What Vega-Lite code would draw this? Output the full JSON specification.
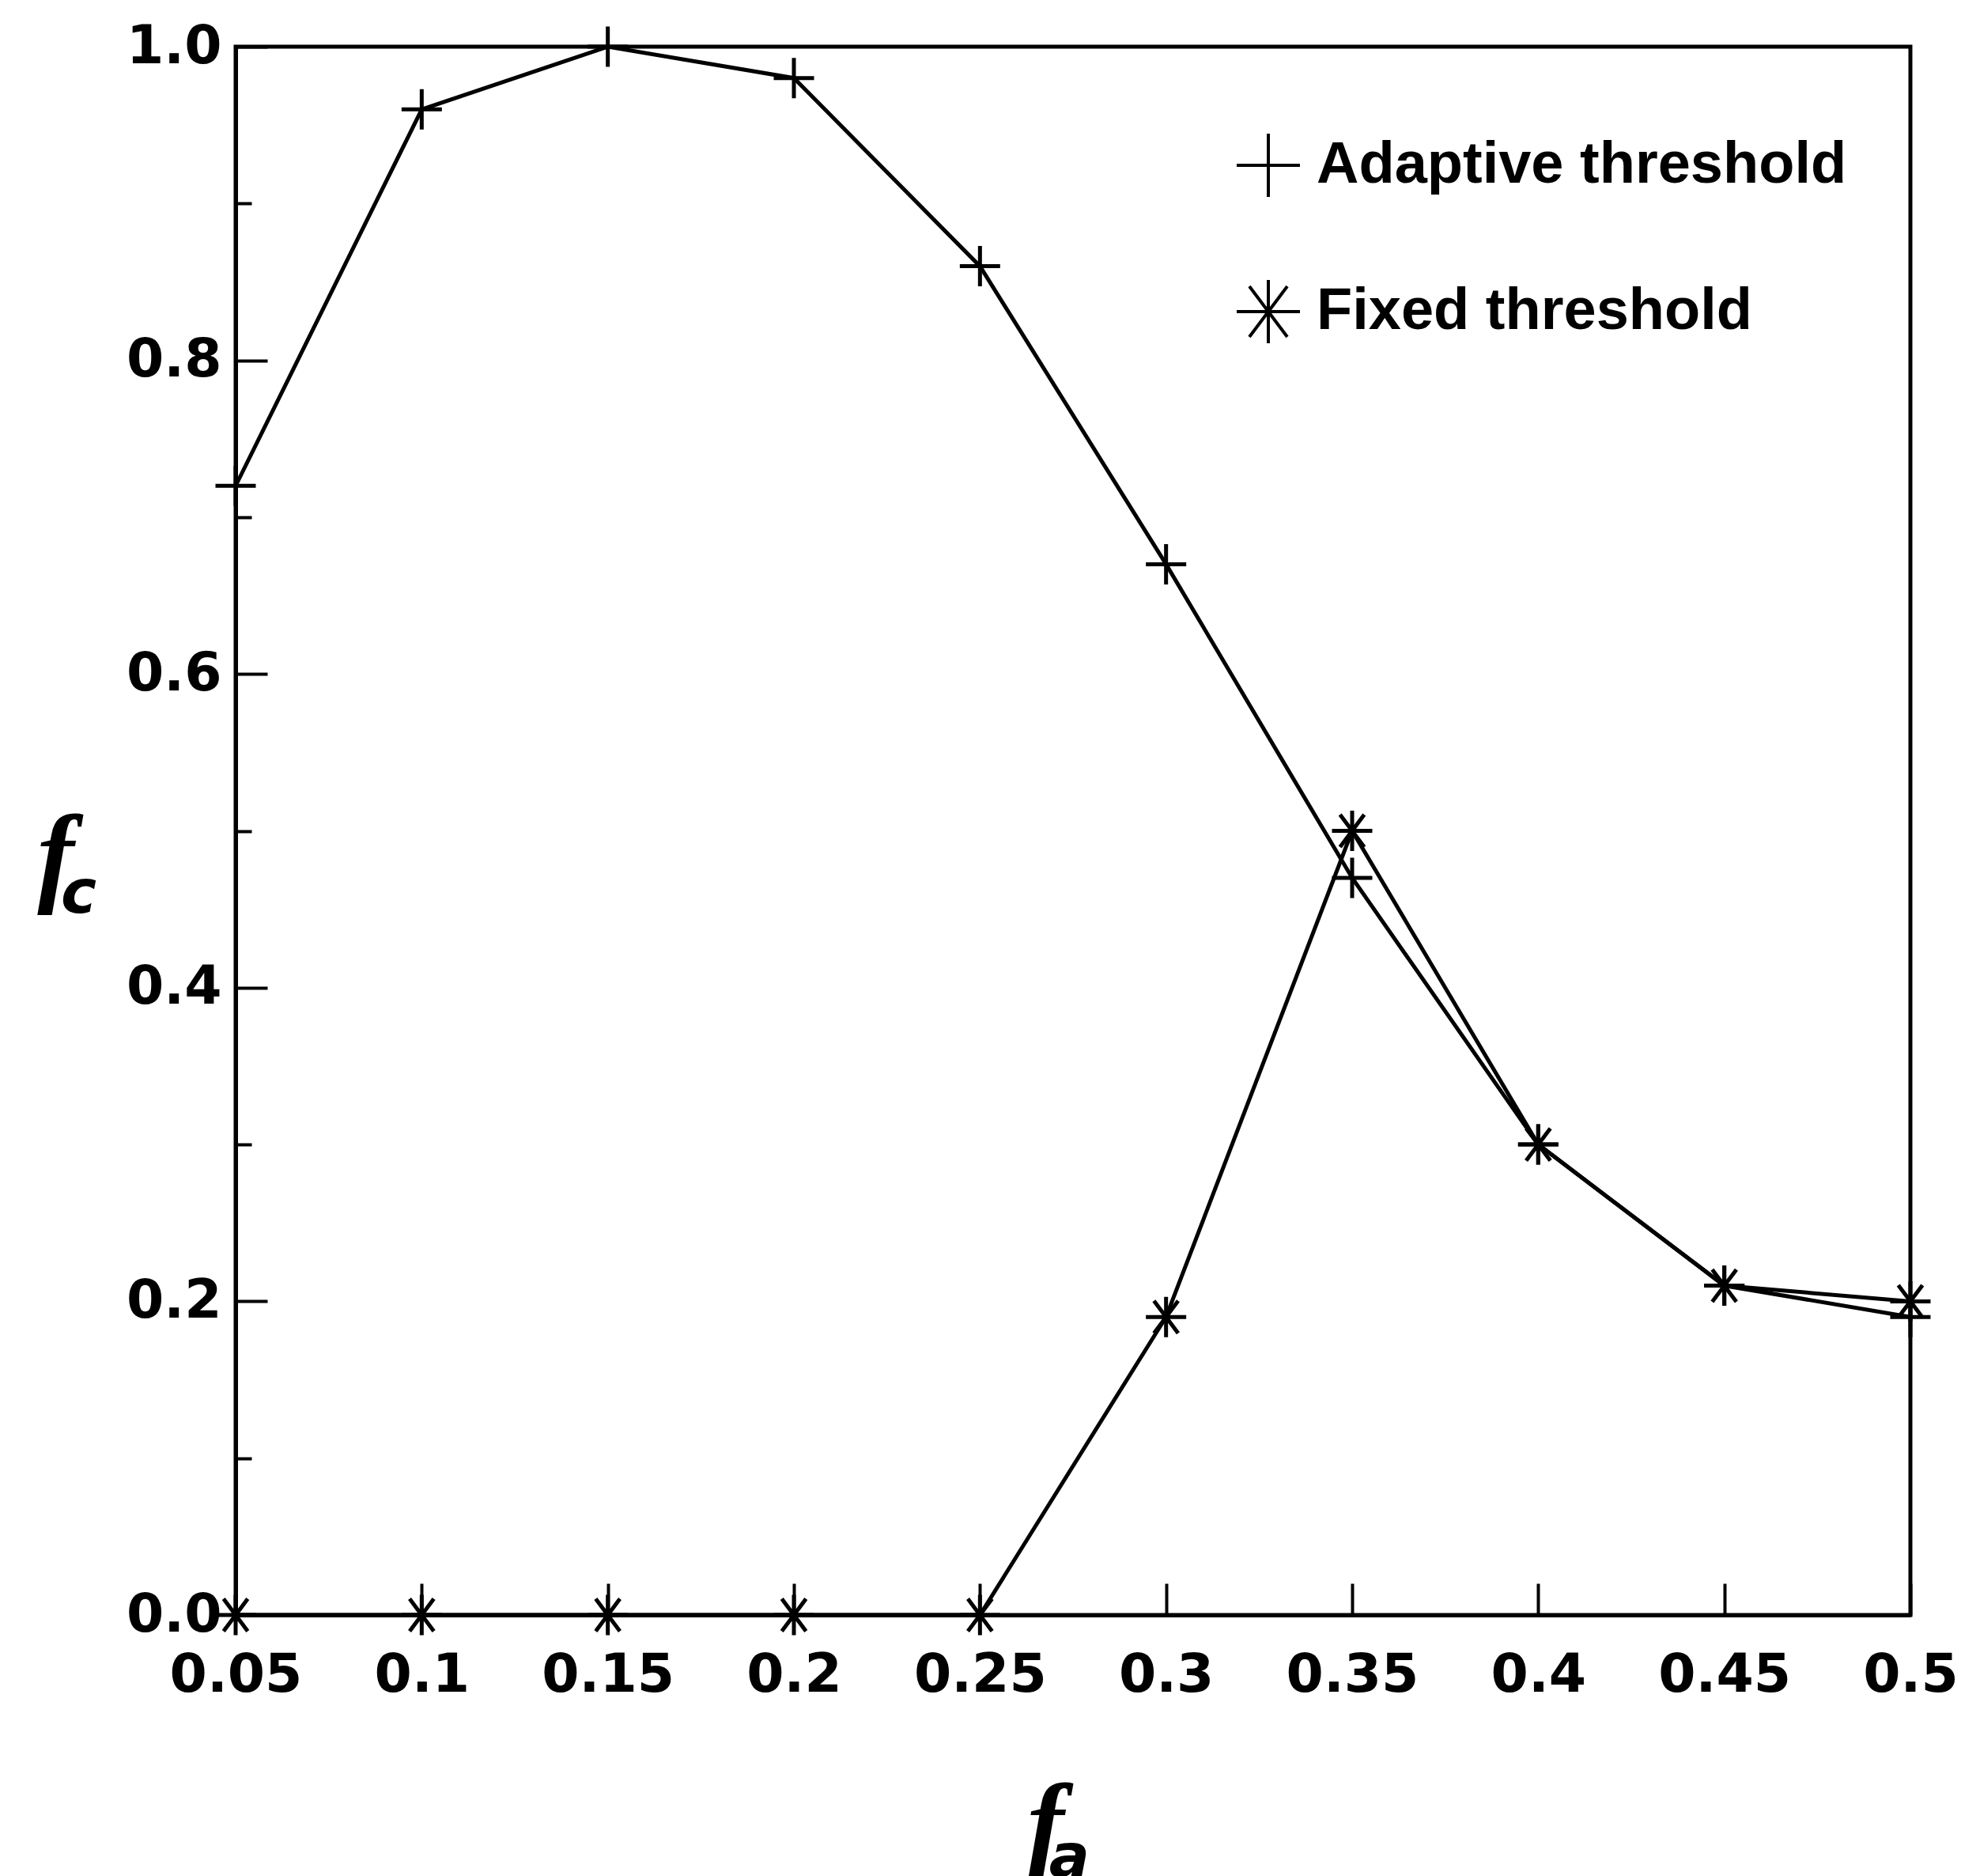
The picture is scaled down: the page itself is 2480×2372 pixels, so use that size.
{
  "$schema": "https://vega.github.io/schema/vega-lite/v6.json",
  "width": 2118,
  "height": 1983,
  "autosize": "none",
  "padding": {"left": 298, "top": 59, "right": 64, "bottom": 330},
  "background": "white",
  "config": {
    "view": {"stroke": "black", "strokeWidth": 5},
    "axis": {"domainColor": "black", "domainWidth": 5, "tickColor": "black", "tickWidth": 4, "grid": false, "labelColor": "black", "titleColor": "black", "labelFlush": false, "labelOverlap": false}
  },
  "data": {
    "values": [
      {"fa": 0.05, "fc": 0.72, "series": "Adaptive threshold"},
      {"fa": 0.10, "fc": 0.96, "series": "Adaptive threshold"},
      {"fa": 0.15, "fc": 1.00, "series": "Adaptive threshold"},
      {"fa": 0.20, "fc": 0.98, "series": "Adaptive threshold"},
      {"fa": 0.25, "fc": 0.86, "series": "Adaptive threshold"},
      {"fa": 0.30, "fc": 0.67, "series": "Adaptive threshold"},
      {"fa": 0.35, "fc": 0.47, "series": "Adaptive threshold"},
      {"fa": 0.40, "fc": 0.30, "series": "Adaptive threshold"},
      {"fa": 0.45, "fc": 0.21, "series": "Adaptive threshold"},
      {"fa": 0.50, "fc": 0.19, "series": "Adaptive threshold"},
      {"fa": 0.05, "fc": 0.00, "series": "Fixed threshold"},
      {"fa": 0.10, "fc": 0.00, "series": "Fixed threshold"},
      {"fa": 0.15, "fc": 0.00, "series": "Fixed threshold"},
      {"fa": 0.20, "fc": 0.00, "series": "Fixed threshold"},
      {"fa": 0.25, "fc": 0.00, "series": "Fixed threshold"},
      {"fa": 0.30, "fc": 0.19, "series": "Fixed threshold"},
      {"fa": 0.35, "fc": 0.50, "series": "Fixed threshold"},
      {"fa": 0.40, "fc": 0.30, "series": "Fixed threshold"},
      {"fa": 0.45, "fc": 0.21, "series": "Fixed threshold"},
      {"fa": 0.50, "fc": 0.20, "series": "Fixed threshold"}
    ]
  },
  "resolve": {"axis": {"x": "independent", "y": "independent"}},
  "layer": [
    {
      "mark": {"type": "line", "color": "black", "strokeWidth": 5},
      "encoding": {
        "x": {"field": "fa", "type": "quantitative", "scale": {"domain": [0.05, 0.5], "nice": false, "zero": false},
          "axis": {"orient": "bottom", "values": [0.05, 0.1, 0.15, 0.2, 0.25, 0.3, 0.35, 0.4, 0.45, 0.5], "format": "~g", "tickSize": -40, "labelPadding": 82, "labelFont": "DejaVu Sans", "labelFontWeight": "bold", "labelFontSize": 68,
            "title": "f", "titleFont": "Liberation Serif", "titleFontStyle": "italic", "titleFontWeight": "bold", "titleFontSize": 140, "titleAngle": 0, "titleAlign": "center", "titleBaseline": "alphabetic", "titleX": 1024, "titleY": 309}},
        "y": {"field": "fc", "type": "quantitative", "scale": {"domain": [0, 1], "nice": false},
          "axis": {"orient": "left", "values": [0, 0.2, 0.4, 0.6, 0.8, 1.0], "format": ".1f", "tickSize": -40, "labelPadding": 58, "labelFont": "DejaVu Sans", "labelFontWeight": "bold", "labelFontSize": 68,
            "title": "f", "titleFont": "Liberation Serif", "titleFontStyle": "italic", "titleFontWeight": "bold", "titleFontSize": 140, "titleAngle": 0, "titleAlign": "center", "titleBaseline": "alphabetic", "titleX": -228, "titleY": 1067}},
        "detail": {"field": "series"}
      }
    },
    {
      "mark": {"type": "point", "filled": false, "stroke": "black", "strokeWidth": 5, "size": 2600, "opacity": 1},
      "encoding": {
        "x": {"field": "fa", "type": "quantitative",
          "axis": {"orient": "bottom", "ticks": false, "labels": false, "domain": false,
            "title": "a", "titleFont": "DejaVu Sans", "titleFontStyle": "italic", "titleFontWeight": "bold", "titleFontSize": 76, "titleAngle": 0, "titleAlign": "center", "titleBaseline": "alphabetic", "titleX": 1054, "titleY": 330}},
        "y": {"field": "fc", "type": "quantitative",
          "axis": {"orient": "left", "values": [0.1, 0.3, 0.5, 0.7, 0.9], "tickSize": -20, "labels": false, "domain": false,
            "title": "c", "titleFont": "DejaVu Sans", "titleFontStyle": "italic", "titleFontWeight": "bold", "titleFontSize": 76, "titleAngle": 0, "titleAlign": "center", "titleBaseline": "alphabetic", "titleX": -199, "titleY": 1094}},
        "shape": {"field": "series", "type": "nominal",
          "scale": {"domain": ["Adaptive threshold", "Fixed threshold"], "range": ["M-1,0L1,0M0,-1L0,1", "M-1,0L1,0M0,-1L0,1M-0.6,-0.8L0.6,0.8M-0.6,0.8L0.6,-0.8"]},
          "legend": {"orient": "none", "legendX": 1264, "legendY": 108, "title": null, "padding": 0, "symbolSize": 6400, "symbolStrokeWidth": 4, "symbolStrokeColor": "black", "symbolFillColor": "transparent", "labelFont": "Liberation Sans", "labelFontWeight": "bold", "labelFontSize": 74, "labelColor": "black", "labelOffset": 19, "rowPadding": 89, "labelLimit": 1000}},
        "color": {"value": "black"}
      }
    }
  ]
}
